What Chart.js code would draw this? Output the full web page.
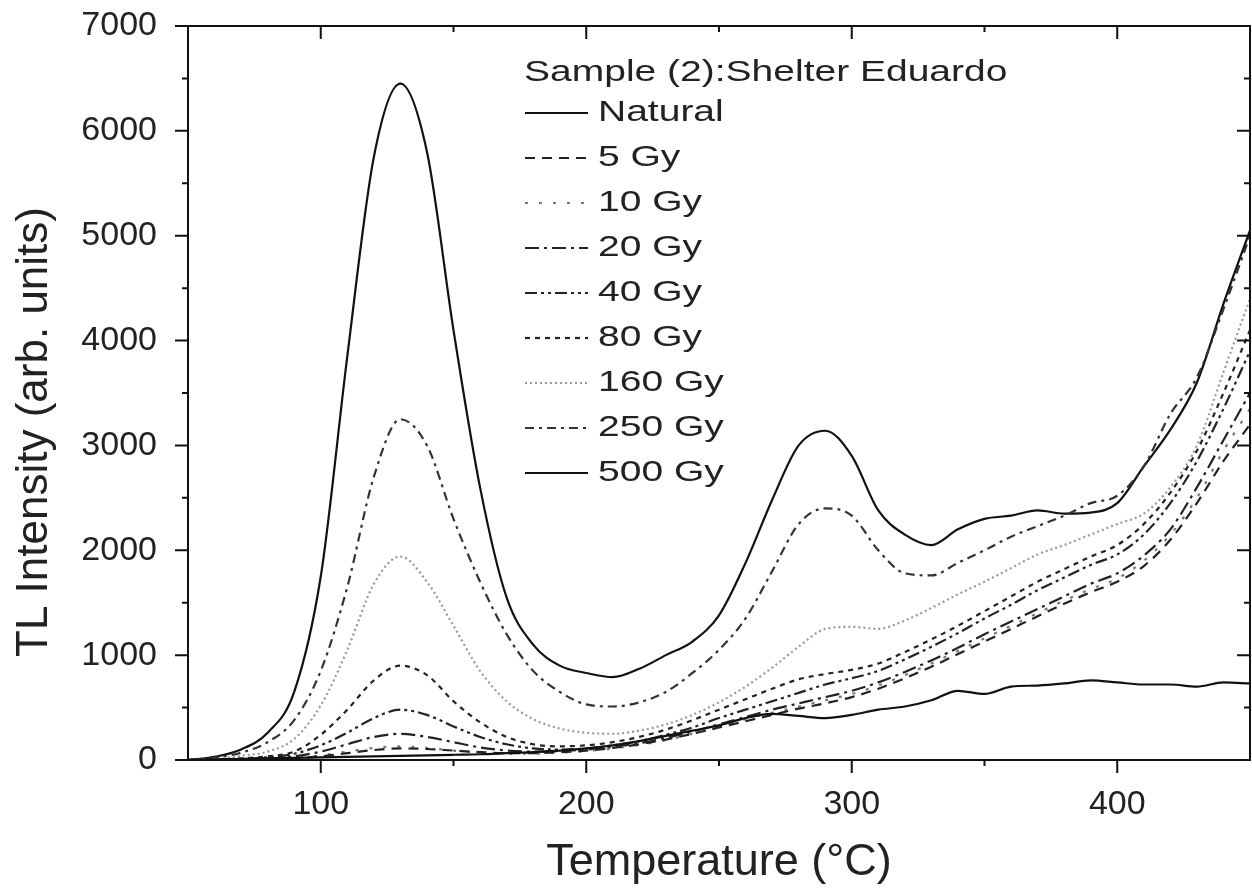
<!DOCTYPE html>
<html>
<head>
<meta charset="utf-8">
<script src="https://cdn.jsdelivr.net/npm/chart.js@4.4.1/dist/chart.umd.min.js"></script>
<style>
  body { margin: 0; background: #fff; }
  #wrap { width: 1252px; height: 894px; position: relative; }
</style>
</head>
<body>
<div id="wrap"><canvas id="tlChart"></canvas></div>
<script>
// temperature (°C) sampled every 10 degrees
const temps = [50,60,70,80,90,100,110,120,130,140,150,160,170,180,190,200,210,220,230,240,250,
               260,270,280,290,300,310,320,330,340,350,360,370,380,390,400,410,420,430,440,450];

const natural = [0,5,10,15,20,25,30,35,40,45,50,55,65,75,90,110,140,180,230,280,330,
                 400,440,420,400,430,480,510,570,660,630,700,710,730,760,740,720,720,700,740,730];
const gy5   = [0,2,4,8,15,35,65,95,110,105,90,75,65,65,75,90,115,150,195,250,310,
               370,430,490,540,600,680,780,890,1010,1130,1250,1370,1490,1600,1700,1850,2100,2450,2850,3200];
const gy10  = [0,2,5,10,20,45,80,115,130,115,90,70,60,60,70,85,110,145,190,250,320,
               390,450,510,570,630,710,810,920,1040,1160,1280,1400,1520,1630,1730,1900,2150,2500,2950,3350];
const gy20  = [0,3,8,15,35,80,150,220,250,220,170,120,90,80,85,100,125,160,210,270,340,
               410,480,540,600,660,740,840,950,1070,1200,1320,1440,1560,1680,1780,1950,2200,2600,3050,3500];
const gy40  = [0,5,10,25,60,140,260,400,480,430,320,220,150,110,100,110,140,180,240,310,400,
               480,560,640,720,780,850,960,1080,1210,1350,1480,1620,1740,1860,1960,2150,2450,2850,3350,3900];
const gy80  = [0,5,15,35,80,240,480,760,900,810,560,360,220,150,130,140,170,220,290,380,480,
               580,680,770,820,860,920,1030,1150,1280,1420,1560,1700,1820,1940,2050,2250,2550,2950,3500,4100];
const gy160 = [0,10,40,80,200,520,1050,1680,1940,1700,1280,850,560,390,300,260,250,280,340,430,550,
               700,880,1080,1250,1270,1250,1330,1450,1580,1700,1830,1960,2050,2150,2250,2350,2600,3000,3700,4400];
const gy250 = [0,20,70,170,380,850,1650,2700,3250,3000,2300,1700,1200,850,650,530,510,550,650,830,1050,
               1350,1800,2250,2400,2330,2000,1780,1760,1880,2000,2130,2230,2330,2450,2520,2800,3300,3650,4300,5000];
const gy500 = [0,30,100,260,650,1750,3850,5750,6450,5800,4100,2600,1550,1100,900,830,790,870,1000,1130,1380,
               1880,2480,3000,3140,2900,2380,2150,2050,2200,2300,2330,2380,2350,2360,2450,2800,3150,3600,4350,5050];

const seriesNames = ['Natural','5 Gy','10 Gy','20 Gy','40 Gy','80 Gy','160 Gy','250 Gy','500 Gy'];
const seriesValues = [natural, gy5, gy10, gy20, gy40, gy80, gy160, gy250, gy500];
const seriesDash = [[], [10,7], [3,11], [14,5,3,5], [12,4,3,4,3,4], [5,5], [2,3], [9,5,3,5], []];
const seriesColor = ['#111','#222','#777','#222','#222','#222','#999','#333','#111'];

const xTicks = [100,200,300,400];
const yTicks = [0,1000,2000,3000,4000,5000,6000,7000];
const legendTitle = 'Sample (2):Shelter Eduardo';
const yTitle = 'TL Intensity (arb. units)';

const FONT = 'Arial, "Liberation Sans", sans-serif';

const datasets = seriesNames.map(function(name, i) {
    return {
        label: name,
        data: temps.map(function(t, j) { return {x: t, y: seriesValues[i][j]}; }),
        borderColor: seriesColor[i],
        borderWidth: 2.2,
        borderDash: seriesDash[i],
        pointRadius: 0,
        cubicInterpolationMode: 'monotone',
        fill: false
    };
});

// box frame plus inward/outward tick marks like the original plot
const frameTicks = {
    id: 'frameTicks',
    afterDraw(chart) {
        const ctx = chart.ctx;
        const a = chart.chartArea;
        const x = chart.scales.x, y = chart.scales.y;
        ctx.save();
        ctx.strokeStyle = '#111';
        ctx.lineWidth = 2;
        ctx.strokeRect(a.left, a.top, a.right - a.left, a.bottom - a.top);
        ctx.beginPath();
        xTicks.forEach(function(v) {
            let px = x.getPixelForValue(v);
            ctx.moveTo(px, a.bottom); ctx.lineTo(px, a.bottom + 13);
            ctx.moveTo(px, a.top); ctx.lineTo(px, a.top + 13);
        });
        [150,250,350].forEach(function(v) {
            let px = x.getPixelForValue(v);
            ctx.moveTo(px, a.bottom); ctx.lineTo(px, a.bottom + 6);
            ctx.moveTo(px, a.top); ctx.lineTo(px, a.top + 6);
        });
        yTicks.forEach(function(v) {
            let py = y.getPixelForValue(v);
            ctx.moveTo(a.left, py); ctx.lineTo(a.left - 13, py);
            ctx.moveTo(a.right, py); ctx.lineTo(a.right - 13, py);
        });
        [500,1500,2500,3500,4500,5500,6500].forEach(function(v) {
            let py = y.getPixelForValue(v);
            ctx.moveTo(a.left, py); ctx.lineTo(a.left - 6, py);
            ctx.moveTo(a.right, py); ctx.lineTo(a.right - 6, py);
        });
        ctx.stroke();

        // y axis title sits a bit below the centre in the original
        ctx.fillStyle = '#222';
        ctx.font = '44px ' + FONT;
        ctx.textAlign = 'center';
        ctx.textBaseline = 'middle';
        ctx.translate(35, 432);
        ctx.rotate(-Math.PI / 2);
        ctx.fillText(yTitle, 0, 0);
        ctx.restore();
    }
};

// legend drawn inside the plot, under a title line (text is wide in the original)
const innerLegend = {
    id: 'innerLegend',
    afterDraw(chart) {
        const ctx = chart.ctx;
        ctx.save();
        ctx.font = '30px ' + FONT;
        ctx.fillStyle = '#222';
        ctx.textBaseline = 'middle';
        ctx.textAlign = 'left';

        function wideText(txt, tx, ty) {
            ctx.save();
            ctx.translate(tx, ty);
            ctx.scale(1.3, 1);
            ctx.fillText(txt, 0, 0);
            ctx.restore();
        }

        wideText(legendTitle, 524, 73);
        chart.data.datasets.forEach(function(ds, i) {
            let yy = 113 + i * 45;
            ctx.beginPath();
            ctx.strokeStyle = ds.borderColor;
            ctx.lineWidth = 2.2;
            ctx.setLineDash(ds.borderDash);
            ctx.moveTo(525, yy);
            ctx.lineTo(588, yy);
            ctx.stroke();
            ctx.setLineDash([]);
            wideText(ds.label, 598, yy);
        });
        ctx.restore();
    }
};

new Chart(document.getElementById('tlChart').getContext('2d'), {
    type: 'line',
    data: { datasets: datasets },
    options: {
        responsive: true,
        maintainAspectRatio: false,
        animation: false,
        layout: { padding: { top: 26, right: 2, left: 0, bottom: 0 } },
        plugins: {
            legend: { display: false },
            tooltip: { enabled: false }
        },
        scales: {
            x: {
                type: 'linear',
                min: 50,
                max: 450,
                afterBuildTicks: function(s) { s.ticks = xTicks.map(function(v) { return {value: v}; }); },
                afterFit: function(s) { s.height = 134; s.paddingLeft = 0; s.paddingRight = 0; },
                grid: { display: false, drawTicks: false },
                border: { display: false },
                ticks: { padding: 24, color: '#222', font: { size: 34, family: FONT },
                         callback: function(v) { return String(v); } },
                title: { display: true, text: 'Temperature (°C)', color: '#222',
                         padding: { top: 0, bottom: 4 }, font: { size: 45, family: FONT } }
            },
            y: {
                min: 0,
                max: 7000,
                afterBuildTicks: function(s) { s.ticks = yTicks.map(function(v) { return {value: v}; }); },
                afterFit: function(s) { s.width = 188; s.paddingTop = 0; s.paddingBottom = 0; },
                grid: { display: false, drawTicks: false },
                border: { display: false },
                ticks: { padding: 31, color: '#222', font: { size: 34, family: FONT },
                         callback: function(v) { return String(v); } },
                title: { display: false }
            }
        }
    },
    plugins: [frameTicks, innerLegend]
});
</script>
</body>
</html>
